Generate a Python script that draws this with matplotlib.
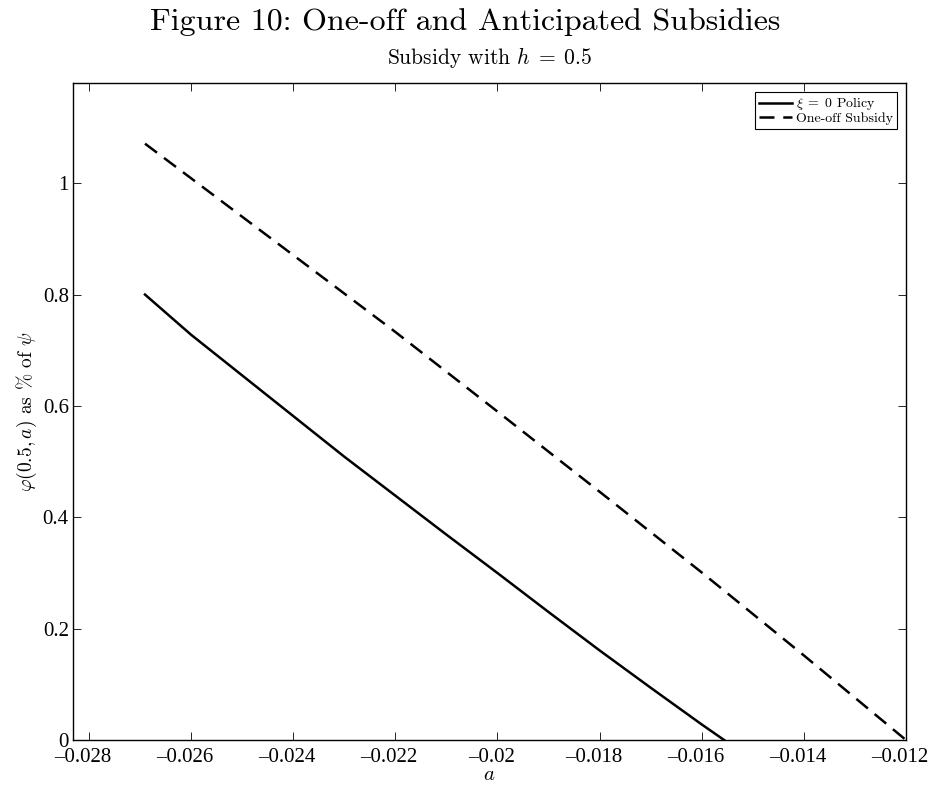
import numpy as np
from matplotlib import pyplot as plt
from matplotlib.transforms import ScaledTranslation

plt.rcParams['mathtext.fontset'] = 'cm'
plt.rcParams['axes.unicode_minus'] = True

# dane
a_policy = [-0.0269, -0.026, -0.025, -0.024, -0.023, -0.022, -0.021, -0.020,
            -0.019, -0.018, -0.017, -0.016, -0.01556]
phi_policy = [0.800, 0.728, 0.655, 0.582, 0.509, 0.439, 0.369, 0.300,
              0.230, 0.161, 0.094, 0.028, 0.0]

a_oneoff = [-0.0269, -0.026, -0.024, -0.022, -0.020, -0.018, -0.016, -0.014, -0.012]
phi_oneoff = [1.071, 1.009, 0.871, 0.733, 0.590, 0.446, 0.301, 0.152, 0.0]

xticks = [-0.028, -0.026, -0.024, -0.022, -0.020, -0.018, -0.016, -0.014, -0.012]
yticks = [0, 0.2, 0.4, 0.6, 0.8, 1.0]

fig = plt.figure(figsize=(9.31, 7.85), dpi=100)
ax = fig.add_axes([0.0784, 0.0573, 0.8947, 0.837])

ax.plot(a_policy, phi_policy, color='black', linewidth=1.8, label=r'$\xi\;=\;0$ Policy')
ax.plot(a_oneoff, phi_oneoff, color='black', linewidth=1.8, dashes=(6, 3.5),
        label='One-off Subsidy')

ax.set_xlim(-0.02831, -0.012)
ax.set_ylim(0, 1.18)
ax.set_xticks(xticks)
ax.set_yticks(yticks)
ax.set_xticklabels([f'{t:g}'.replace('-', '\u2013') for t in xticks],
                   family='Liberation Serif', fontsize=15)
ax.set_yticklabels([f'{t:g}' for t in yticks], family='Liberation Serif', fontsize=15)
ax.tick_params(axis='x', pad=6)
ax.tick_params(axis='y', pad=3)
ax.tick_params(direction='in', top=True, right=True, length=6, width=0.6)
# etykiety osi x lekko przesuniete w lewo, jak w oryginale
przes = ScaledTranslation(-6 / 100, 0, fig.dpi_scale_trans)
for lbl in ax.get_xticklabels():
    lbl.set_transform(lbl.get_transform() + przes)
for s in ax.spines.values():
    s.set_linewidth(1.0)

ax.set_xlabel(r'$a$', fontsize=15, va='bottom')
ax.xaxis.set_label_coords(0.5, -(785 - 740 - 1) / 657)
ax.set_ylabel(r'$\varphi(0.5,a)$ as $\%$ of $\psi$', family='cmr10', fontsize=14, labelpad=3)
ax.text(0.5, 1 + 25 / 657, r'Subsidy with $h\;=\;0.5$', transform=ax.transAxes,
        family='cmr10', fontsize=15.5, ha='center', va='center')
fig.text(0.5, 1 - 22 / 785, 'Figure 10: One-off and Anticipated Subsidies', family='cmr10',
         fontsize=23, ha='center', va='center')

leg = ax.legend(loc='upper right', prop={'family': 'cmr10', 'size': 10},
                fancybox=False, edgecolor='black', framealpha=1,
                borderpad=0.25, handlelength=2.4, handletextpad=0.3,
                labelspacing=0.0, borderaxespad=0.65)
leg.get_frame().set_linewidth(0.8)

fig.savefig('out.png', dpi=100)
